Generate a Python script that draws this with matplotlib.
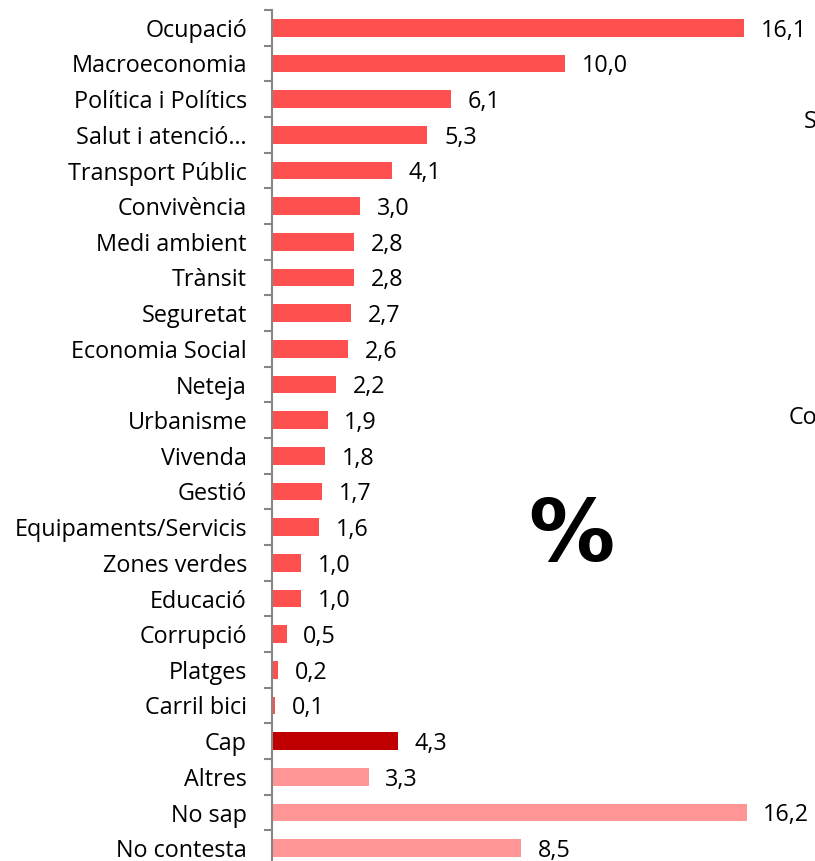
import numpy as np
import matplotlib
matplotlib.use('Agg')
import matplotlib.pyplot as plt

# Data
categories = ['Ocupació', 'Macroeconomia', 'Política i Polítics', 'Salut i atenció…',
              'Transport Públic', 'Convivència', 'Medi ambient', 'Trànsit', 'Seguretat',
              'Economia Social', 'Neteja', 'Urbanisme', 'Vivenda', 'Gestió',
              'Equipaments/Servicis', 'Zones verdes', 'Educació', 'Corrupció', 'Platges',
              'Carril bici', 'Cap', 'Altres', 'No sap', 'No contesta']
values = [16.1, 10.0, 6.1, 5.3, 4.1, 3.0, 2.8, 2.8, 2.7, 2.6, 2.2, 1.9, 1.8, 1.7,
          1.6, 1.0, 1.0, 0.5, 0.2, 0.1, 4.3, 3.3, 16.2, 8.5]
groups = ['tema'] * 20 + ['cap', 'resta', 'resta', 'resta']

group_colors = {'tema': '#FF5050', 'cap': '#C00000', 'resta': '#FF9595'}

plt.rcParams['font.family'] = ['Open Sans', 'DejaVu Sans']
fs = 16.8

W, H = 815, 861
fig = plt.figure(figsize=(W / 100, H / 100), dpi=100)

# axes placed in pixel coordinates
left_px, top_px, bottom_px = 272, 10, 866
ax = fig.add_axes([left_px / W, (H - bottom_px) / H, (W - left_px) / W, (bottom_px - top_px) / H])

y = np.arange(len(categories))
colors = [group_colors[g] for g in groups]
ax.barh(y, values, height=0.5, color=colors)

for yi, v in zip(y, values):
    ax.annotate(f'{v:.1f}'.replace('.', ','), (v, yi), xytext=(12, -2),
                textcoords='offset points', va='center', ha='left', fontsize=fs)

ax.set_xlim(0, (W - left_px) / 29.3)
ax.set_ylim(len(categories) - 0.5, -0.5)

ax.set_yticks(y)
ax.set_yticklabels(categories, fontsize=fs)
ax.tick_params(axis='y', which='major', length=0, pad=18)
ax.set_yticks(np.arange(len(categories) + 1) - 0.5, minor=True)
ax.tick_params(axis='y', which='minor', length=6, width=1.5, color='#868686')
ax.set_xticks([])

for s in ['top', 'right', 'bottom']:
    ax.spines[s].set_visible(False)
ax.spines['left'].set_color('#868686')
ax.spines['left'].set_linewidth(1.5)

# big percent sign in the middle
fig.text(571 / W, 1 - 537 / H, '%', fontsize=62, fontweight='bold',
         family='DejaVu Sans', ha='center', va='center')

# cut-off texts at the right edge
fig.text(804 / W, 1 - 122 / H, 'S', fontsize=fs, va='center', ha='left')
fig.text(789 / W, 1 - 418 / H, 'Co', fontsize=fs, va='center', ha='left')

fig.savefig('out.png', dpi=100)
